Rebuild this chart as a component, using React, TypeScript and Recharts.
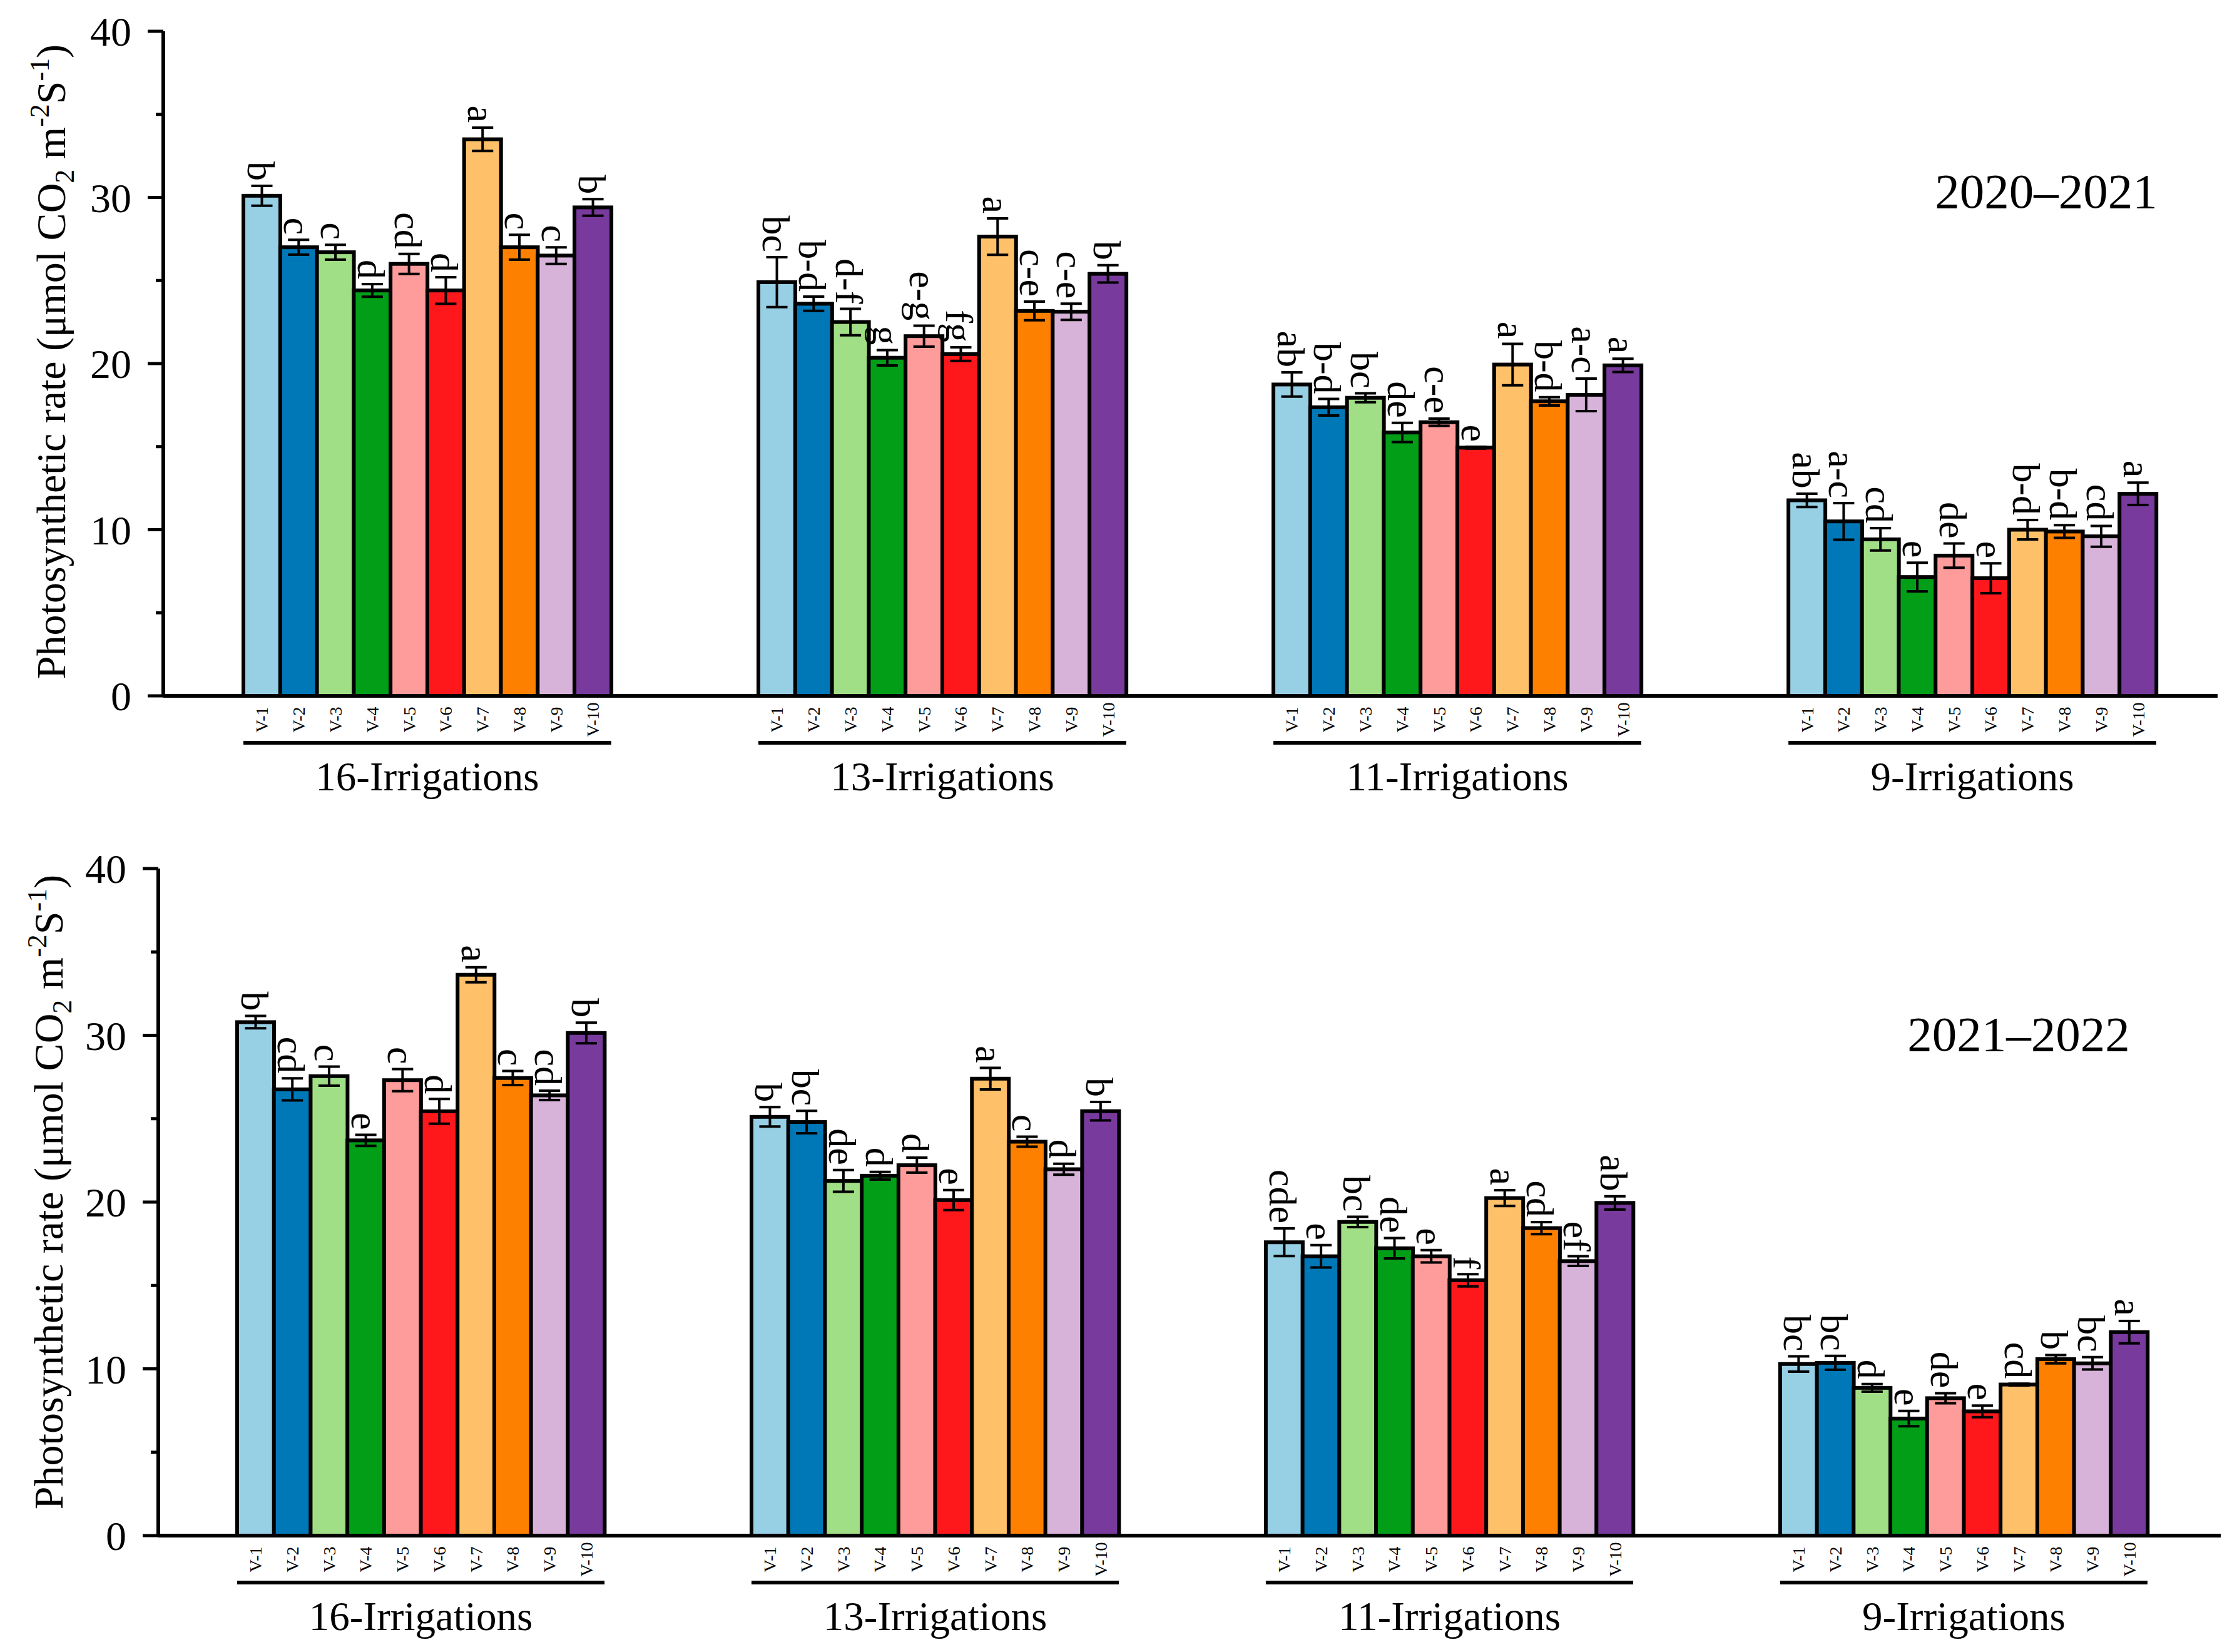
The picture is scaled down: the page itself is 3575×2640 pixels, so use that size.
import React from 'react';
import { BarChart, Bar, XAxis, YAxis, ErrorBar } from 'recharts';

const FONT = "'Liberation Serif', 'Times New Roman', Times, serif";

// Cultivars, groups and palette
const cultivars = ['V-1', 'V-2', 'V-3', 'V-4', 'V-5', 'V-6', 'V-7', 'V-8', 'V-9', 'V-10'];
const cultivarColors = [
  '#97CFE4', '#0078B7', '#A1DF86', '#029E18', '#FE9C9C',
  '#FE181C', '#FEC16A', '#FE8001', '#D7B3D9', '#783A9C',
];
const irrigations = ['16-Irrigations', '13-Irrigations', '11-Irrigations', '9-Irrigations'];
const yTicks = [0, 5, 10, 15, 20, 25, 30, 35, 40];

// 2020–2021 season
const pnA16 = [30.1, 27.0, 26.7, 24.4, 26.0, 24.4, 33.5, 27.0, 26.5, 29.4];
const seA16 = [0.6, 0.45, 0.45, 0.38, 0.6, 0.8, 0.7, 0.75, 0.5, 0.5];
const sigA16 = ['b', 'c', 'c', 'd', 'cd', 'd', 'a', 'c', 'c', 'b'];
const pnA13 = [24.9, 23.6, 22.5, 20.35, 21.65, 20.57, 27.64, 23.17, 23.12, 25.4];
const seA13 = [1.5, 0.43, 0.8, 0.46, 0.63, 0.41, 1.1, 0.56, 0.49, 0.52];
const sigA13 = ['bc', 'b-d', 'd-f', 'g', 'e-g', 'fg', 'a', 'c-e', 'c-e', 'b'];
const pnA11 = [18.74, 17.37, 17.94, 15.85, 16.47, 14.94, 19.94, 17.73, 18.12, 19.89];
const seA11 = [0.73, 0.5, 0.27, 0.58, 0.22, 0.05, 1.25, 0.25, 0.98, 0.4];
const sigA11 = ['ab', 'b-d', 'bc', 'de', 'c-e', 'e', 'a', 'b-d', 'a-c', 'a'];
const pnA9 = [11.77, 10.5, 9.42, 7.15, 8.44, 7.08, 10.0, 9.89, 9.6, 12.16];
const seA9 = [0.4, 1.1, 0.67, 0.86, 0.73, 0.9, 0.58, 0.38, 0.63, 0.67];
const sigA9 = ['ab', 'a-c', 'cd', 'e', 'de', 'e', 'b-d', 'b-d', 'cd', 'a'];

// 2021–2022 season
const pnB16 = [30.79, 26.76, 27.55, 23.7, 27.31, 25.44, 33.63, 27.44, 26.4, 30.14];
const seB16 = [0.37, 0.66, 0.57, 0.33, 0.66, 0.74, 0.45, 0.42, 0.28, 0.62];
const sigB16 = ['b', 'cd', 'c', 'e', 'c', 'd', 'a', 'c', 'cd', 'b'];
const pnB13 = [25.11, 24.8, 21.27, 21.58, 22.21, 20.12, 27.4, 23.62, 21.97, 25.45];
const seB13 = [0.58, 0.67, 0.65, 0.23, 0.45, 0.6, 0.65, 0.3, 0.33, 0.55];
const sigB13 = ['b', 'bc', 'de', 'd', 'd', 'e', 'a', 'c', 'd', 'b'];
const pnB11 = [17.59, 16.75, 18.81, 17.23, 16.75, 15.31, 20.24, 18.44, 16.46, 19.95];
const seB11 = [0.83, 0.67, 0.31, 0.61, 0.37, 0.37, 0.47, 0.36, 0.29, 0.4];
const sigB11 = ['cde', 'e', 'bc', 'de', 'e', 'f', 'a', 'cd', 'ef', 'ab'];
const pnB9 = [10.29, 10.36, 8.86, 7.02, 8.24, 7.45, 9.06, 10.58, 10.33, 12.2];
const seB9 = [0.46, 0.42, 0.23, 0.46, 0.3, 0.35, 0.05, 0.25, 0.37, 0.67];
const sigB9 = ['bc', 'bc', 'd', 'e', 'de', 'e', 'cd', 'b', 'bc', 'a'];

const GAP_SLOTS = 4; // empty categories between irrigation groups

type Row = {
  key: string;
  cultivar?: string;
  group?: string;
  first?: boolean;
  value: number | null;
  err?: number;
  sig?: string;
  color?: string;
};

function buildRows(values: number[][], se: number[][], sig: string[][]): Row[] {
  const rows: Row[] = [];
  irrigations.forEach((g, gi) => {
    if (gi > 0) {
      for (let k = 0; k < GAP_SLOTS; k++) rows.push({ key: `gap-${gi}-${k}`, value: null });
    }
    cultivars.forEach((c, ci) =>
      rows.push({
        key: `${g}|${c}`,
        cultivar: c,
        group: g,
        first: ci === 0,
        value: values[gi][ci],
        err: se[gi][ci],
        sig: sig[gi][ci],
        color: cultivarColors[ci],
      })
    );
  });
  return rows;
}

const rowsA = buildRows([pnA16, pnA13, pnA11, pnA9], [seA16, seA13, seA11, seA9], [sigA16, sigA13, sigA11, sigA9]);
const rowsB = buildRows([pnB16, pnB13, pnB11, pnB9], [seB16, seB13, seB11, seB9], [sigB16, sigB13, sigB11, sigB9]);

const CHART_W = 3575;
const CHART_H = 1320;
const Y_AXIS_W = 200;

// bar with its significance letter above the error bar
const LetteredBar = (props: any) => {
  const { x, y, width, height, payload } = props;
  if (!payload || payload.value == null || !(height > 0)) return null;
  const errPx = payload.err ? (height * payload.err) / payload.value : 0;
  const tx = x + width / 2 - 23;
  const ty = y - errPx - 8;
  return (
    <g>
      <rect x={x} y={y} width={width} height={height} fill={payload.color} stroke="#000" strokeWidth={6} />
      <text
        x={tx}
        y={ty}
        transform={`rotate(90 ${tx} ${ty})`}
        textAnchor="end"
        fontSize={62}
        fontFamily={FONT}
        fill="#000"
      >
        {payload.sig}
      </text>
    </g>
  );
};

const YTick = (props: any) => {
  const { x, y, payload } = props;
  const major = payload.value % 10 === 0;
  const axisX = x + 51;
  return (
    <g>
      <line x1={axisX} x2={axisX - (major ? 25 : 12)} y1={y} y2={y} stroke="#000" strokeWidth={5} />
      {major && (
        <text x={x} y={y} dy="0.355em" textAnchor="end" fontSize={66} fontFamily={FONT} fill="#000">
          {payload.value}
        </text>
      )}
    </g>
  );
};

function makeXTick(rows: Row[], slot: number) {
  const byKey = new Map(rows.map((r) => [r.key, r]));
  return (props: any) => {
    const { x, y, payload } = props;
    const row = byKey.get(payload.value);
    if (!row || !row.cultivar) return <g />;
    const lx = x + 10;
    const ly = y + 38;
    return (
      <g>
        <text
          x={lx}
          y={ly}
          transform={`rotate(-90 ${lx} ${ly})`}
          textAnchor="middle"
          fontSize={28}
          fontFamily={FONT}
          fill="#000"
        >
          {row.cultivar}
        </text>
        {row.first && (
          <g>
            <line
              x1={x - slot / 2}
              x2={x - slot / 2 + cultivars.length * slot}
              y1={y + 75}
              y2={y + 75}
              stroke="#000"
              strokeWidth={6}
            />
            <text
              x={x - slot / 2 + (cultivars.length * slot) / 2}
              y={y + 151}
              textAnchor="middle"
              fontSize={65}
              fontFamily={FONT}
              fill="#000"
            >
              {row.group}
            </text>
          </g>
        )}
      </g>
    );
  };
}

type PanelProps = {
  rows: Row[];
  top: number;
  marginLeft: number;
  marginRight: number;
  plotTop: number;
  plotBottom: number;
  padL: number;
  padR: number;
};

const Panel: React.FC<PanelProps> = ({ rows, top, marginLeft, marginRight, plotTop, plotBottom, padL, padR }) => {
  const plotW = CHART_W - marginLeft - Y_AXIS_W - marginRight;
  const slot = (plotW - padL - padR) / rows.length;
  return (
    <div style={{ position: 'absolute', left: 0, top }}>
      <BarChart
        width={CHART_W}
        height={CHART_H}
        data={rows}
        margin={{ top: plotTop, right: marginRight, bottom: 0, left: marginLeft }}
        barCategoryGap={0}
        barGap={0}
      >
        <XAxis
          dataKey="key"
          type="category"
          interval={0}
          height={CHART_H - plotBottom}
          padding={{ left: padL, right: padR }}
          tickLine={false}
          tickSize={0}
          tickMargin={0}
          axisLine={{ stroke: '#000', strokeWidth: 6 }}
          tick={makeXTick(rows, slot)}
        />
        <YAxis
          type="number"
          domain={[0, 40]}
          ticks={yTicks}
          interval={0}
          width={Y_AXIS_W}
          tickLine={false}
          tickSize={25}
          tickMargin={26}
          axisLine={{ stroke: '#000', strokeWidth: 6 }}
          tick={<YTick />}
        />
        <Bar dataKey="value" isAnimationActive={false} shape={LetteredBar}>
          <ErrorBar dataKey="err" width={17} strokeWidth={4} stroke="#000" direction="y" />
        </Bar>
      </BarChart>
    </div>
  );
};

const YTitle: React.FC<{ x: number; y: number }> = ({ x, y }) => (
  <text
    x={x}
    y={y}
    transform={`rotate(-90 ${x} ${y})`}
    textAnchor="middle"
    fontSize={66}
    fontFamily={FONT}
    fill="#000"
  >
    Photosynthetic rate (μmol CO
    <tspan fontSize={44} dy={14}>2</tspan>
    <tspan dy={-14}> m</tspan>
    <tspan fontSize={44} dy={-26}>-2</tspan>
    <tspan dy={26}>S</tspan>
    <tspan fontSize={44} dy={-26}>-1</tspan>
    <tspan dy={26}>)</tspan>
  </text>
);

export default function App() {
  return (
    <div style={{ position: 'relative', width: CHART_W, height: 2640, background: '#fff', fontFamily: FONT }}>
      <style>{'body{margin:0;background:#fff}'}</style>
      <Panel rows={rowsA} top={0} marginLeft={61} marginRight={31} plotTop={50} plotBottom={1112} padL={128} padR={98} />
      <Panel rows={rowsB} top={1320} marginLeft={53} marginRight={26} plotTop={68} plotBottom={1134} padL={126} padR={117} />
      <svg
        width={CHART_W}
        height={2640}
        style={{ position: 'absolute', left: 0, top: 0, pointerEvents: 'none' }}
      >
        <YTitle x={104} y={578} />
        <YTitle x={100} y={1905} />
        <text x={3270} y={332} textAnchor="middle" fontSize={79} fontFamily={FONT} fill="#000">
          2020–2021
        </text>
        <text x={3226} y={1679} textAnchor="middle" fontSize={79} fontFamily={FONT} fill="#000">
          2021–2022
        </text>
      </svg>
    </div>
  );
}
